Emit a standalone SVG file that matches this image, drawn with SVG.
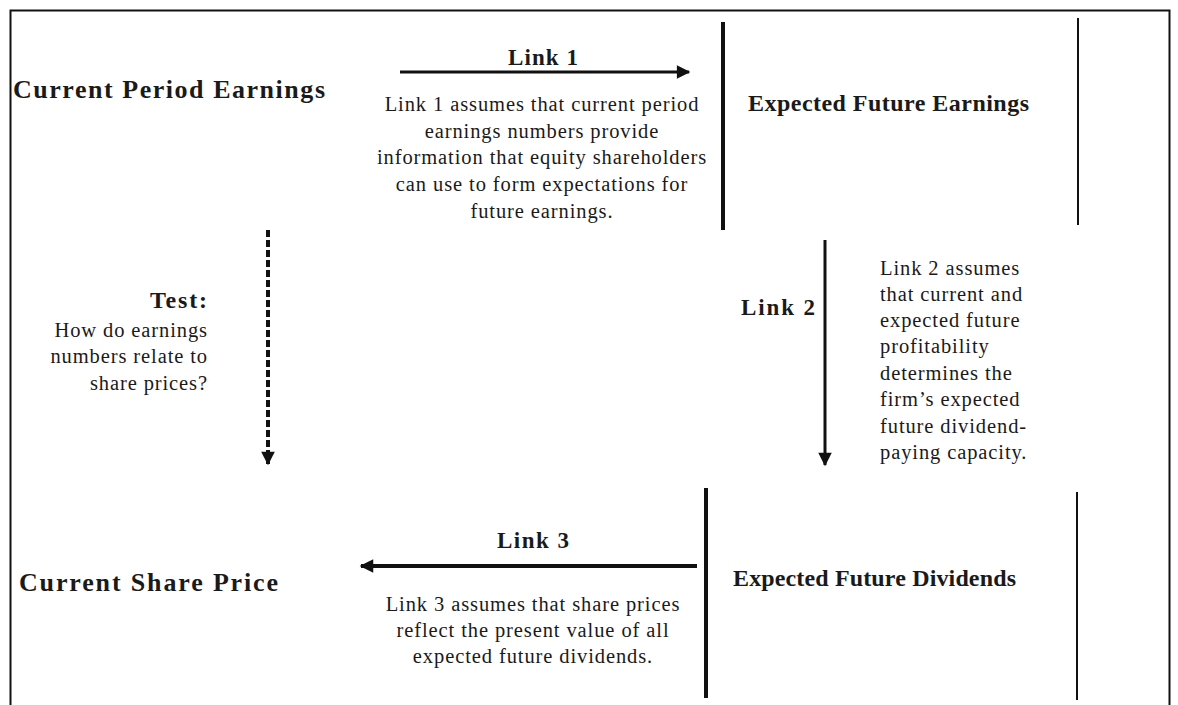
<svg xmlns="http://www.w3.org/2000/svg" width="1178" height="705" viewBox="0 0 1178 705">
<defs>
<style>
.h{font-family:"Liberation Serif","Times New Roman",serif;font-weight:bold;fill:#1a1a1a;}
.b{font-family:"Liberation Serif","Times New Roman",serif;fill:#1a1a1a;font-size:20.5px;letter-spacing:0.9px;}
.bar{stroke:#111;fill:none;}
</style>
<marker id="ah" viewBox="0 0 10 10" refX="9" refY="5" markerWidth="5" markerHeight="4.5" markerUnits="strokeWidth" orient="auto">
<path d="M0,0 L10,5 L0,10 Z" fill="#111"/>
</marker>
<marker id="ahd" viewBox="0 0 10 10" refX="9" refY="5" markerWidth="3.6" markerHeight="3.4" markerUnits="strokeWidth" orient="auto">
<path d="M0,0 L10,5 L0,10 Z" fill="#111"/>
</marker>
</defs>
<rect x="0" y="0" width="1178" height="705" fill="#fff"/>
<rect x="10.5" y="10.5" width="1159" height="710" fill="none" stroke="#111" stroke-width="2"/>

<g id="connectors">
<line id="link1" x1="400" y1="72" x2="689" y2="72" stroke="#111" stroke-width="3" marker-end="url(#ah)"/>
<line id="link2" x1="825" y1="240" x2="825" y2="465" stroke="#111" stroke-width="3" marker-end="url(#ah)"/>
<line id="link3" x1="697" y1="566" x2="361" y2="566" stroke="#111" stroke-width="4" marker-end="url(#ahd)"/>
<line id="test" x1="268" y1="230" x2="268" y2="464" stroke="#111" stroke-width="4" stroke-dasharray="7,3" marker-end="url(#ahd)"/>
</g>

<g id="current-period-earnings">
<text class="h" x="13" y="98" font-size="26" textLength="312" lengthAdjust="spacing">Current Period Earnings</text>
</g>

<g id="expected-future-earnings">
<line class="bar" x1="723" y1="22" x2="723" y2="230" stroke-width="4"/>
<line class="bar" x1="1078" y1="18" x2="1078" y2="225" stroke-width="2"/>
<text class="h" x="748" y="111" font-size="24" textLength="281" lengthAdjust="spacing">Expected Future Earnings</text>
</g>

<g id="expected-future-dividends">
<line class="bar" x1="706" y1="488" x2="706" y2="698" stroke-width="4"/>
<line class="bar" x1="1077" y1="492" x2="1077" y2="700" stroke-width="2"/>
<text class="h" x="733" y="586" font-size="24" textLength="283" lengthAdjust="spacing">Expected Future Dividends</text>
</g>

<g id="current-share-price">
<text class="h" x="19" y="591" font-size="26" textLength="259" lengthAdjust="spacing">Current Share Price</text>
</g>

<g id="link1-label">
<text class="h" x="508" y="65" font-size="23" textLength="70" lengthAdjust="spacing">Link 1</text>
<g class="b" text-anchor="middle">
<text x="542" y="111">Link 1 assumes that current period</text>
<text x="542" y="138">earnings numbers provide</text>
<text x="542" y="164">information that equity shareholders</text>
<text x="542" y="191">can use to form expectations for</text>
<text x="542" y="218">future earnings.</text>
</g>
</g>

<g id="link2-label">
<text class="h" x="741" y="315" font-size="23" textLength="74" lengthAdjust="spacing">Link 2</text>
<g class="b">
<text x="880" y="275">Link 2 assumes</text>
<text x="880" y="301">that current and</text>
<text x="880" y="327">expected future</text>
<text x="880" y="353">profitability</text>
<text x="880" y="380">determines the</text>
<text x="880" y="406">firm’s expected</text>
<text x="880" y="433">future dividend-</text>
<text x="880" y="459">paying capacity.</text>
</g>
</g>

<g id="link3-label">
<text class="h" x="497" y="548" font-size="23" textLength="72" lengthAdjust="spacing">Link 3</text>
<g class="b" text-anchor="middle">
<text x="533" y="611">Link 3 assumes that share prices</text>
<text x="533" y="637">reflect the present value of all</text>
<text x="533" y="663">expected future dividends.</text>
</g>
</g>

<g id="test-label">
<text class="h" x="150" y="308" font-size="24" textLength="57" lengthAdjust="spacing">Test:</text>
<g class="b" text-anchor="end">
<text x="208" y="337">How do earnings</text>
<text x="208" y="363">numbers relate to</text>
<text x="208" y="390">share prices?</text>
</g>
</g>
</svg>
